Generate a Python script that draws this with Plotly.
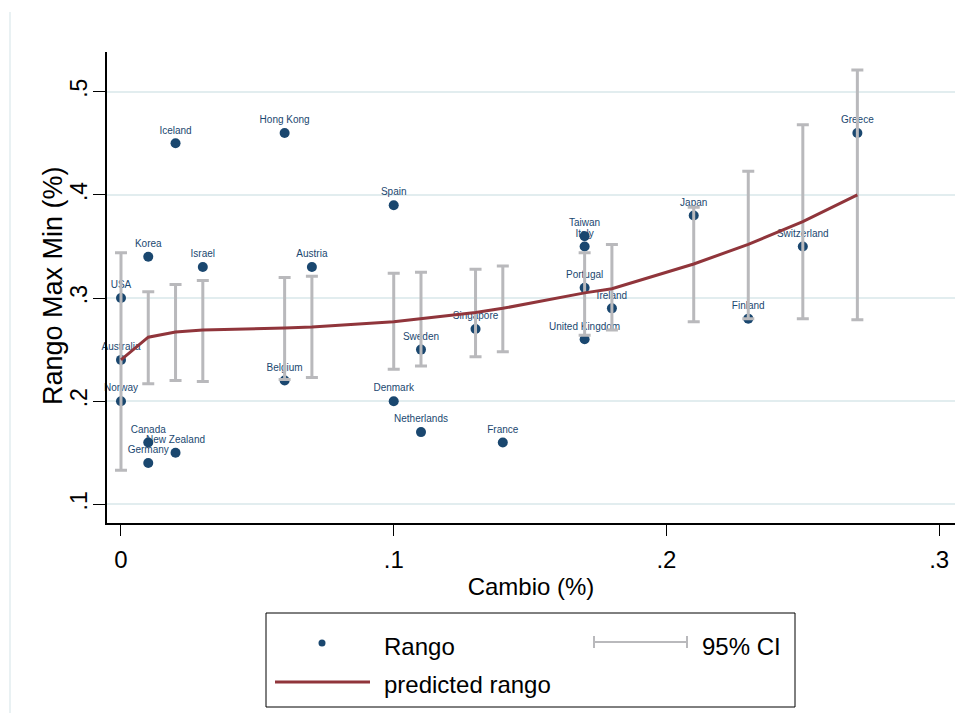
import plotly.graph_objects as go

# ---------------- data ----------------
countries = ["USA", "Australia", "Norway", "Korea", "Canada", "Germany", "Iceland",
             "New Zealand", "Israel", "Hong Kong", "Belgium", "Austria", "Spain",
             "Denmark", "Sweden", "Netherlands", "Singapore", "France", "Taiwan",
             "Italy", "Portugal", "United Kingdom", "Ireland", "Japan", "Finland",
             "Switzerland", "Greece"]
cambio = [0.00, 0.00, 0.00, 0.01, 0.01, 0.01, 0.02, 0.02, 0.03, 0.06, 0.06, 0.07,
          0.10, 0.10, 0.11, 0.11, 0.13, 0.14, 0.17, 0.17, 0.17, 0.17, 0.18, 0.21,
          0.23, 0.25, 0.27]
rango = [0.30, 0.24, 0.20, 0.34, 0.16, 0.14, 0.45, 0.15, 0.33, 0.46, 0.22, 0.33,
         0.39, 0.20, 0.25, 0.17, 0.27, 0.16, 0.36, 0.35, 0.31, 0.26, 0.29, 0.38,
         0.28, 0.35, 0.46]

fit_x = [0.00, 0.01, 0.02, 0.03, 0.06, 0.07, 0.10, 0.11, 0.13, 0.14, 0.17, 0.18,
         0.21, 0.23, 0.25, 0.27]
fit_pred = [0.240, 0.262, 0.267, 0.269, 0.271, 0.272, 0.277, 0.280, 0.286, 0.290,
            0.305, 0.309, 0.333, 0.352, 0.374, 0.400]
ci_lo = [0.133, 0.217, 0.220, 0.219, 0.221, 0.223, 0.231, 0.234, 0.243, 0.248,
         0.264, 0.269, 0.277, 0.280, 0.280, 0.279]
ci_hi = [0.344, 0.306, 0.313, 0.317, 0.320, 0.321, 0.324, 0.325, 0.328, 0.331,
         0.344, 0.352, 0.388, 0.423, 0.468, 0.521]

x_tickvals = [0, 0.1, 0.2, 0.3]
x_ticktext = ["0", ".1", ".2", ".3"]
y_tickvals = [0.1, 0.2, 0.3, 0.4, 0.5]
y_ticktext = [".1", ".2", ".3", ".4", ".5"]

# ---------------- style ----------------
NAVY = "#1a476f"
MAROON = "#90353b"
GRAY = "#b9b9bc"
GRID = "#e2edef"
FONT = "Liberation Sans, Arial, sans-serif"

OFF = 8  # page body margin
W, H = 971 - OFF, 713 - OFF
L, T = 107 - OFF, 52 - OFF
PW, PH = 848, 471
R = W - L - PW
B = H - T - PH


def px(x):
    """page pixel x -> paper fraction"""
    return (x - OFF - L) / PW


def py(y):
    """page pixel y -> paper fraction"""
    return (T + PH - (y - OFF)) / PH


fig = go.Figure()

# scatter with labels
fig.add_trace(go.Scatter(
    x=cambio, y=rango, mode="markers+text", text=countries,
    textposition="top center",
    textfont=dict(family=FONT, size=10, color=NAVY),
    marker=dict(color=NAVY, size=10),
    showlegend=False, cliponaxis=False,
))

# 95% CI caps
err_plus = [h - p for h, p in zip(ci_hi, fit_pred)]
err_minus = [p - l for p, l in zip(fit_pred, ci_lo)]
fig.add_trace(go.Scatter(
    x=fit_x, y=fit_pred, mode="markers",
    marker=dict(size=1, opacity=0),
    error_y=dict(type="data", array=err_plus, arrayminus=err_minus,
                 color=GRAY, thickness=3, width=6),
    showlegend=False, hoverinfo="skip",
))

# predicted line
fig.add_trace(go.Scatter(
    x=fit_x, y=fit_pred, mode="lines",
    line=dict(color=MAROON, width=3),
    showlegend=False,
))

shapes = []
# faint outer graph-region edge
shapes.append(dict(type="line", xref="paper", yref="paper",
                   x0=px(10), x1=px(10), y0=py(12), y1=py(713),
                   line=dict(color=GRID, width=1.5)))
# legend box
shapes.append(dict(type="rect", xref="paper", yref="paper",
                   x0=px(266), x1=px(795), y0=py(613), y1=py(707),
                   line=dict(color="black", width=1), fillcolor="white"))
# legend: marker
shapes.append(dict(type="circle", xref="paper", yref="paper",
                   x0=px(318.5), x1=px(325.5), y0=py(639.5), y1=py(646.5),
                   line=dict(color=NAVY, width=0), fillcolor=NAVY))
# legend: CI symbol
shapes.append(dict(type="line", xref="paper", yref="paper",
                   x0=px(594), x1=px(687), y0=py(642), y1=py(642),
                   line=dict(color=GRAY, width=2)))
for xx in (594, 687):
    shapes.append(dict(type="line", xref="paper", yref="paper",
                       x0=px(xx), x1=px(xx), y0=py(636), y1=py(648),
                       line=dict(color=GRAY, width=2)))
# legend: line
shapes.append(dict(type="line", xref="paper", yref="paper",
                   x0=px(275), x1=px(370), y0=py(682), y1=py(682),
                   line=dict(color=MAROON, width=3)))

annotations = [
    dict(text="Rango", x=px(382), y=py(646), xref="paper", yref="paper",
         xanchor="left", yanchor="middle", showarrow=False,
         font=dict(family=FONT, size=24, color="black")),
    dict(text="95% CI", x=px(700), y=py(646), xref="paper", yref="paper",
         xanchor="left", yanchor="middle", showarrow=False,
         font=dict(family=FONT, size=24, color="black")),
    dict(text="predicted rango", x=px(382), y=py(684), xref="paper", yref="paper",
         xanchor="left", yanchor="middle", showarrow=False,
         font=dict(family=FONT, size=24, color="black")),
    # y-axis title
    dict(text="Rango Max Min (%)", x=px(53), y=py(286), xref="paper", yref="paper",
         xanchor="center", yanchor="middle", textangle=-90, showarrow=False,
         font=dict(family=FONT, size=27, color="black")),
]

fig.update_layout(
    width=W, height=H,
    margin=dict(l=L, r=R, t=T, b=B, pad=0),
    paper_bgcolor="white", plot_bgcolor="white",
    font=dict(family=FONT, color="black"),
    shapes=shapes, annotations=annotations,
    showlegend=False,
)

fig.update_xaxes(
    range=[-0.00513, 0.3058],
    tickvals=x_tickvals, ticktext=x_ticktext,
    ticks="outside", ticklen=11, tickwidth=1, tickcolor="black",
    tickfont=dict(family=FONT, size=24, color="black"),
    ticklabelstandoff=3,
    showline=True, linecolor="black", linewidth=1.5,
    showgrid=False, zeroline=False,
    title=dict(text="Cambio (%)", font=dict(family=FONT, size=24, color="black"),
               standoff=7),
)

fig.update_yaxes(
    range=[0.0819, 0.5385],
    tickvals=y_tickvals, ticktext=y_ticktext, tickangle=-90,
    ticks="outside", ticklen=12, tickwidth=1, tickcolor="black",
    tickfont=dict(family=FONT, size=23, color="black"),
    ticklabelstandoff=-3,
    showline=True, linecolor="black", linewidth=1.5,
    showgrid=True, gridcolor=GRID, gridwidth=2, zeroline=False,
)

fig.write_html("out.html")
